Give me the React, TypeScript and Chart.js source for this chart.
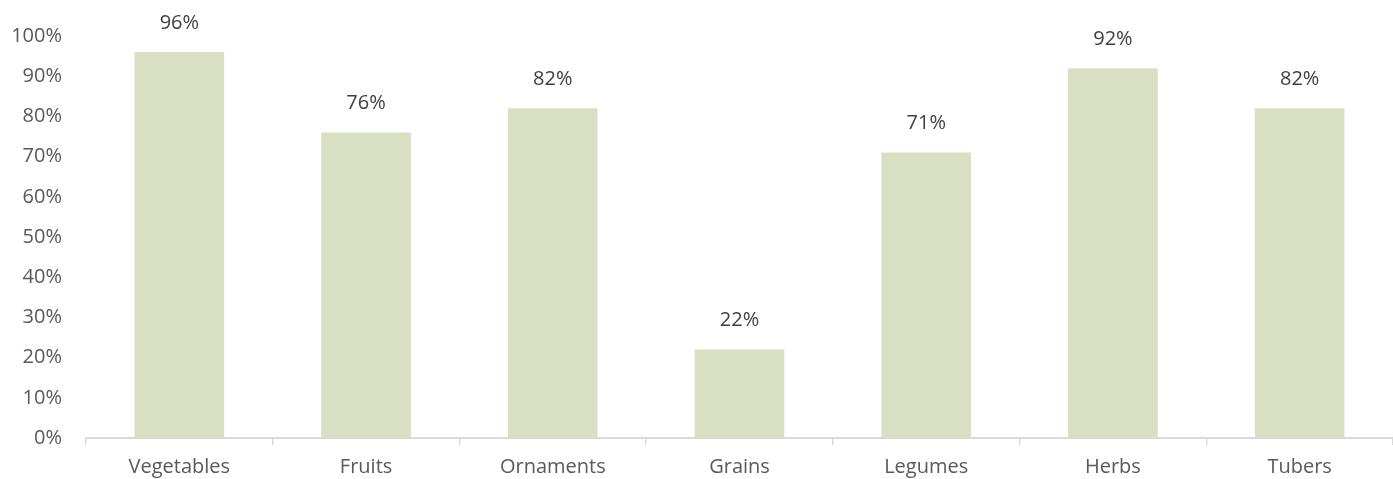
import React, { useEffect, useRef } from "react";
import { Chart, registerables } from "chart.js";

Chart.register(...registerables);

const categories = ["Vegetables", "Fruits", "Ornaments", "Grains", "Legumes", "Herbs", "Tubers"];
const values = [96, 76, 82, 22, 71, 92, 82];
const yTicks = [0, 10, 20, 30, 40, 50, 60, 70, 80, 90, 100];

const FONT = "'Open Sans', 'Noto Sans', sans-serif";

const dataLabelPlugin = {
  id: "dataLabels",
  afterDatasetsDraw(chart: any) {
    const { ctx } = chart;
    const meta = chart.getDatasetMeta(0);
    ctx.save();
    ctx.fillStyle = "#404040";
    ctx.font = `20px ${FONT}`;
    ctx.textAlign = "center";
    ctx.textBaseline = "middle";
    meta.data.forEach((bar: any, i: number) => {
      ctx.fillText(`${values[i]}%`, bar.x, bar.y - 29);
    });
    ctx.restore();
  },
};

export default function App() {
  const ref = useRef<HTMLCanvasElement | null>(null);
  useEffect(() => {
    if (!ref.current) return;
    const chart = new Chart(ref.current, {
      type: "bar",
      data: {
        labels: categories,
        datasets: [
          {
            data: values,
            backgroundColor: "#D9DFC2",
            categoryPercentage: 1,
            barPercentage: 0.48,
          },
        ],
      },
      options: {
        animation: false,
        responsive: false,
        maintainAspectRatio: false,
        layout: { padding: { top: 31, right: 0, left: 0, bottom: 0 } },
        plugins: { legend: { display: false }, tooltip: { enabled: false } },
        scales: {
          x: {
            grid: {
              display: true,
              drawOnChartArea: false,
              drawTicks: true,
              tickLength: 7,
              color: "#D9D9D9",
              lineWidth: 1.5,
              offset: true,
            },
            border: { display: true, color: "#D9D9D9", width: 2 },
            ticks: { color: "#595959", font: { size: 20, family: FONT }, padding: 10 },
            afterFit(scale: any) {
              scale.height = 41;
            },
          },
          y: {
            min: 0,
            max: 100,
            afterBuildTicks(scale: any) {
              scale.ticks = yTicks.map((v) => ({ value: v }));
            },
            grid: { display: false, drawTicks: false },
            border: { display: false },
            ticks: {
              color: "#595959",
              font: { size: 20, family: FONT },
              padding: 24,
              callback: (v: any) => `${v}%`,
            },
            afterFit(scale: any) {
              scale.width = 86;
            },
          },
        },
      },
      plugins: [dataLabelPlugin],
    });
    return () => chart.destroy();
  }, []);
  return (
    <div style={{ position: "fixed", left: 0, top: 0, width: 1393, height: 479 }}>
      <canvas ref={ref} width={1393} height={479} />
    </div>
  );
}
